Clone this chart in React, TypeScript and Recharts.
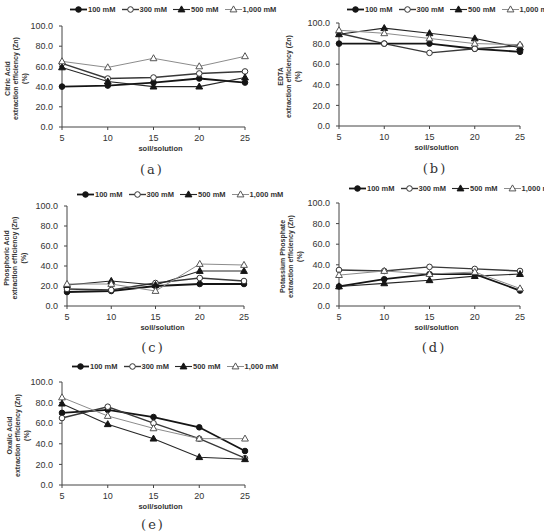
import { Legend, Line, LineChart, XAxis, YAxis } from "recharts"

// soil/solution ratio on the x axis
const SOIL_SOLUTION = [5, 10, 15, 20, 25]
const SERIES_NAMES = ["100 mM", "300 mM", "500 mM", "1,000 mM"]
const Y_TICKS = [0, 20, 40, 60, 80, 100]
const Y_TITLE_LINES = ["extraction efficiency (Zn)", "(%)"]

// (a) Citric Acid
const citric100 = [40, 41, 44, 48, 44]
const citric300 = [63, 48, 49, 53, 55]
const citric500 = [59, 45, 40, 40, 49]
const citric1000 = [65, 59, 68, 60, 70]

// (b) EDTA
const edta100 = [80, 80, 80, 75, 72]
const edta300 = [90, 80, 71, 75, 78]
const edta500 = [89, 95, 90, 85, 76]
const edta1000 = [93, 90, 85, 80, 79]

// (c) Phosphoric Acid
const phos100 = [14, 15, 20, 22, 22]
const phos300 = [17, 16, 23, 28, 25]
const phos500 = [21, 25, 21, 35, 35]
const phos1000 = [22, 22, 15, 42, 41]

// (d) Potassium Phosphate
const potas100 = [19, 26, 31, 31, 15]
const potas300 = [35, 34, 38, 36, 34]
const potas500 = [19, 22, 25, 29, 31]
const potas1000 = [30, 34, 31, 33, 17]

// (e) Oxalic Acid
const oxalic100 = [70, 73, 66, 56, 33]
const oxalic300 = [65, 76, 60, 45, 26]
const oxalic500 = [79, 59, 45, 27, 25]
const oxalic1000 = [85, 67, 55, 45, 45]

const FONT = "'Liberation Sans', Arial, sans-serif"
const CHART_W = 272
const CHART_H = 172
const X_AXIS_H = 30

const SERIES_STYLE = [
  { stroke: "#151515", width: 1.8, shape: "circle", fill: "#151515", edge: "#151515" },
  { stroke: "#383838", width: 1.4, shape: "circle", fill: "#ffffff", edge: "#333" },
  { stroke: "#262626", width: 1.1, shape: "triangle", fill: "#151515", edge: "#151515" },
  { stroke: "#8c8c8c", width: 1, shape: "triangle", fill: "#ffffff", edge: "#555" },
]

const PANELS = [
  {
    id: "a", left: 0, top: 0, plot: [62, 245, 26, 127], name: "Citric Acid", base: 55,
    series: [citric100, citric300, citric500, citric1000],
    legend: [70, 10], caption: "(a)", cap: [152, 171],
  },
  {
    id: "b", left: 272, top: 0, plot: [339, 520, 23, 126], name: "EDTA", base: 59,
    series: [edta100, edta300, edta500, edta1000],
    legend: [347, 10], caption: "(b)", cap: [435, 170],
  },
  {
    id: "c", left: 0, top: 170, plot: [67, 244, 206, 306], name: "Phosphoric Acid", base: 61,
    series: [phos100, phos300, phos500, phos1000],
    legend: [77, 195], caption: "(c)", cap: [153, 349],
  },
  {
    id: "d", left: 272, top: 170, plot: [339, 520, 203, 306], name: "Potassium Phosphate", base: 57,
    series: [potas100, potas300, potas500, potas1000],
    legend: [349, 189], caption: "(d)", cap: [434, 349],
  },
  {
    id: "e", left: 0, top: 340, plot: [62, 245, 382, 485], name: "Oxalic Acid", base: 53,
    series: [oxalic100, oxalic300, oxalic500, oxalic1000],
    legend: [72, 367], caption: "(e)", cap: [153, 526],
  },
]

function Marker({ cx, cy, idx }: { cx?: number; cy?: number; idx: number }) {
  if (cx == null || cy == null) return null
  const s = SERIES_STYLE[idx]
  if (s.shape === "circle") {
    return <circle cx={cx} cy={cy} r={2.8} fill={s.fill} stroke={s.edge} strokeWidth={1} />
  }
  return (
    <polygon
      points={`${cx},${cy - 3.6} ${cx - 3.4},${cy + 2.4} ${cx + 3.4},${cy + 2.4}`}
      fill={s.fill}
      stroke={s.edge}
      strokeWidth={1}
    />
  )
}

const LegendContent = () => (
  <div
    style={{
      display: "flex",
      alignItems: "center",
      whiteSpace: "nowrap",
      fontFamily: FONT,
      fontSize: 7.5,
      fontWeight: "bold",
      color: "#333",
    }}
  >
    {SERIES_NAMES.map((name, i) => (
      <div key={name} style={{ display: "flex", alignItems: "center", marginRight: 6 }}>
        <svg width={17} height={9} style={{ display: "block" }}>
          <line x1={0} y1={4.5} x2={17} y2={4.5} stroke={SERIES_STYLE[i].stroke} strokeWidth={SERIES_STYLE[i].width} />
          <Marker cx={8.5} cy={4.5} idx={i} />
        </svg>
        <span style={{ marginLeft: 1 }}>{name}</span>
      </div>
    ))}
  </div>
)

function Panel({ p }: { p: (typeof PANELS)[number] }) {
  const [pl, pr, pt, pb] = p.plot
  const yAxisW = pl - p.left
  const margin = {
    top: pt - p.top,
    right: p.left + CHART_W - pr,
    bottom: CHART_H - (pb - p.top) - X_AXIS_H,
    left: 0,
  }
  const rows = SOIL_SOLUTION.map((x, i) => ({
    x,
    s0: p.series[0][i],
    s1: p.series[1][i],
    s2: p.series[2][i],
    s3: p.series[3][i],
  }))

  // local (svg) coordinates of the plot
  const axisX = yAxisW
  const midY = (pt + pb) / 2 - p.top + 2
  const midX = (pl + pr) / 2 - p.left + 7
  const bottomY = pb - p.top

  const yTitle = () => (
    <g>
      {[p.name, ...Y_TITLE_LINES].map((t, i) => {
        const cx = axisX - p.base + i * 8.7
        return (
          <text
            key={i}
            x={cx}
            y={midY}
            transform={`rotate(-90 ${cx} ${midY})`}
            textAnchor="middle"
            dominantBaseline="central"
            fontFamily={FONT}
            fontSize={7}
            fontWeight="bold"
            fill="#333"
          >
            {t}
          </text>
        )
      })}
    </g>
  )

  const xTitle = () => (
    <text
      x={midX}
      y={bottomY + 21.5}
      textAnchor="middle"
      dominantBaseline="central"
      fontFamily={FONT}
      fontSize={7.5}
      fontWeight="bold"
      fill="#333"
    >
      soil/solution
    </text>
  )

  return (
    <div style={{ position: "absolute", left: p.left, top: p.top }}>
      <LineChart width={CHART_W} height={CHART_H} data={rows} margin={margin}>
        <XAxis
          dataKey="x"
          type="number"
          domain={[5, 25]}
          ticks={SOIL_SOLUTION}
          interval={0}
          height={X_AXIS_H}
          tickSize={3}
          tickMargin={5}
          stroke="#444"
          tick={{ fontFamily: FONT, fontSize: 9, fill: "#333" }}
          label={{ content: xTitle }}
        />
        <YAxis
          type="number"
          domain={[0, 100]}
          ticks={Y_TICKS}
          interval={0}
          width={yAxisW}
          tickSize={3}
          tickMargin={6}
          stroke="#444"
          tickFormatter={(v: number) => v.toFixed(1)}
          tick={{ fontFamily: FONT, fontSize: 9, fill: "#333" }}
          label={{ content: yTitle }}
        />
        <Legend
          layout="horizontal"
          align="center"
          verticalAlign="middle"
          content={LegendContent}
          wrapperStyle={{ left: p.legend[0] - p.left, top: p.legend[1] - p.top - 5, width: "max-content" }}
        />
        {SERIES_NAMES.map((name, i) => (
          <Line
            key={name}
            name={name}
            dataKey={`s${i}`}
            type="linear"
            stroke={SERIES_STYLE[i].stroke}
            strokeWidth={SERIES_STYLE[i].width}
            dot={(d: any) => <Marker key={`${name}-${d.index}`} cx={d.cx} cy={d.cy} idx={i} />}
            activeDot={false}
            isAnimationActive={false}
          />
        ))}
      </LineChart>
      <div
        style={{
          position: "absolute",
          left: p.cap[0] - p.left - 20,
          top: p.cap[1] - p.top - 9,
          width: 40,
          textAlign: "center",
          fontFamily: "'DejaVu Serif', serif",
          fontSize: 13,
          letterSpacing: 2,
          color: "#333",
        }}
      >
        {p.caption}
      </div>
    </div>
  )
}

export default function App() {
  return (
    <div
      style={{
        position: "absolute",
        left: 0,
        top: 0,
        width: 544,
        height: 531,
        overflow: "hidden",
        background: "#fff",
      }}
    >
      {PANELS.map((p) => (
        <Panel key={p.id} p={p} />
      ))}
    </div>
  )
}
